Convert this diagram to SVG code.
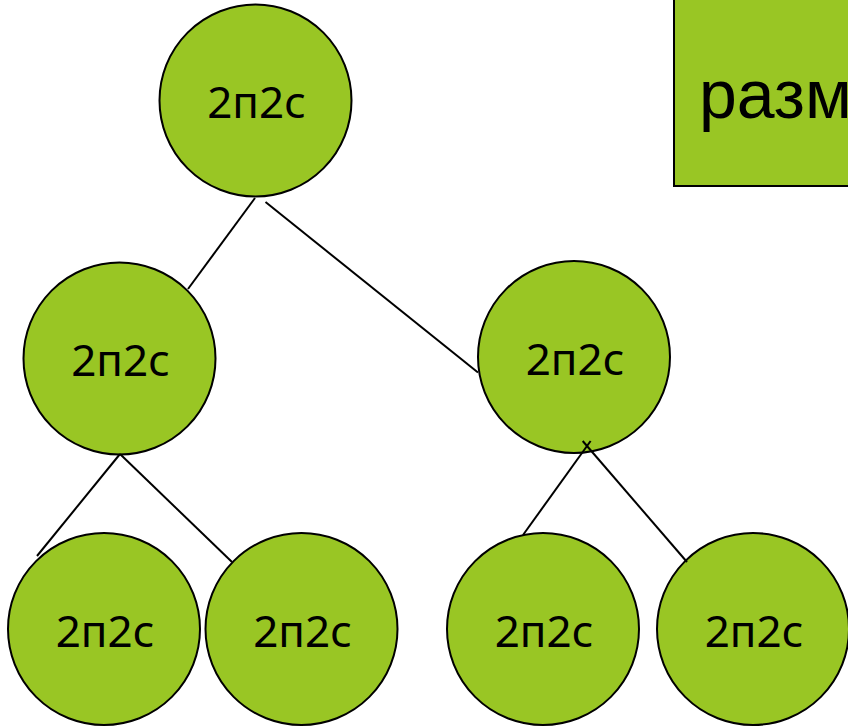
<svg xmlns="http://www.w3.org/2000/svg" width="848" height="728" viewBox="0 0 848 728">
  <style>
    .node { fill: #99C624; stroke: #000; stroke-width: 2; }
    .label { font-family: "Noto Sans", "Open Sans", sans-serif; font-size: 44px; fill: #000; text-anchor: middle; }
    .title { font-family: "Liberation Sans", Arial, sans-serif; font-size: 68px; fill: #000; }
    .edge { stroke: #000; stroke-width: 2; fill: none; }
  </style>
  <rect width="848" height="728" fill="#fff"/>

  <!-- heading box, running off the right edge -->
  <g id="heading">
    <rect x="674" y="-4" width="190" height="190" class="node"/>
    <text x="699" y="118" class="title">размер</text>
  </g>

  <!-- tree nodes -->
  <g id="root">
    <circle cx="255.5" cy="100.5" r="96" class="node"/>
    <text x="256.5" y="118" class="label">2п2с</text>
  </g>
  <g id="mid-left">
    <circle cx="119.5" cy="358.5" r="96" class="node"/>
    <text x="120.5" y="376" class="label">2п2с</text>
  </g>
  <g id="mid-right">
    <circle cx="574" cy="357" r="96" class="node"/>
    <text x="575" y="374.5" class="label">2п2с</text>
  </g>
  <g id="leaf-1">
    <circle cx="104" cy="629" r="96" class="node"/>
    <text x="105" y="646.5" class="label">2п2с</text>
  </g>
  <g id="leaf-2">
    <circle cx="301.5" cy="629" r="96" class="node"/>
    <text x="302.5" y="646.5" class="label">2п2с</text>
  </g>
  <g id="leaf-3">
    <circle cx="543" cy="629" r="96" class="node"/>
    <text x="544" y="646.5" class="label">2п2с</text>
  </g>
  <g id="leaf-4">
    <circle cx="753" cy="629" r="96" class="node"/>
    <text x="754" y="646.5" class="label">2п2с</text>
  </g>

  <!-- connectors -->
  <g id="connectors" class="edge">
    <line x1="255" y1="198" x2="188" y2="289"/>
    <line x1="265.5" y1="202" x2="478" y2="372.5"/>
    <line x1="120" y1="454" x2="37" y2="556"/>
    <line x1="120" y1="454" x2="232" y2="562"/>
    <line x1="590.6" y1="441" x2="523" y2="535"/>
    <line x1="582.7" y1="441" x2="687" y2="562"/>
  </g>
</svg>
